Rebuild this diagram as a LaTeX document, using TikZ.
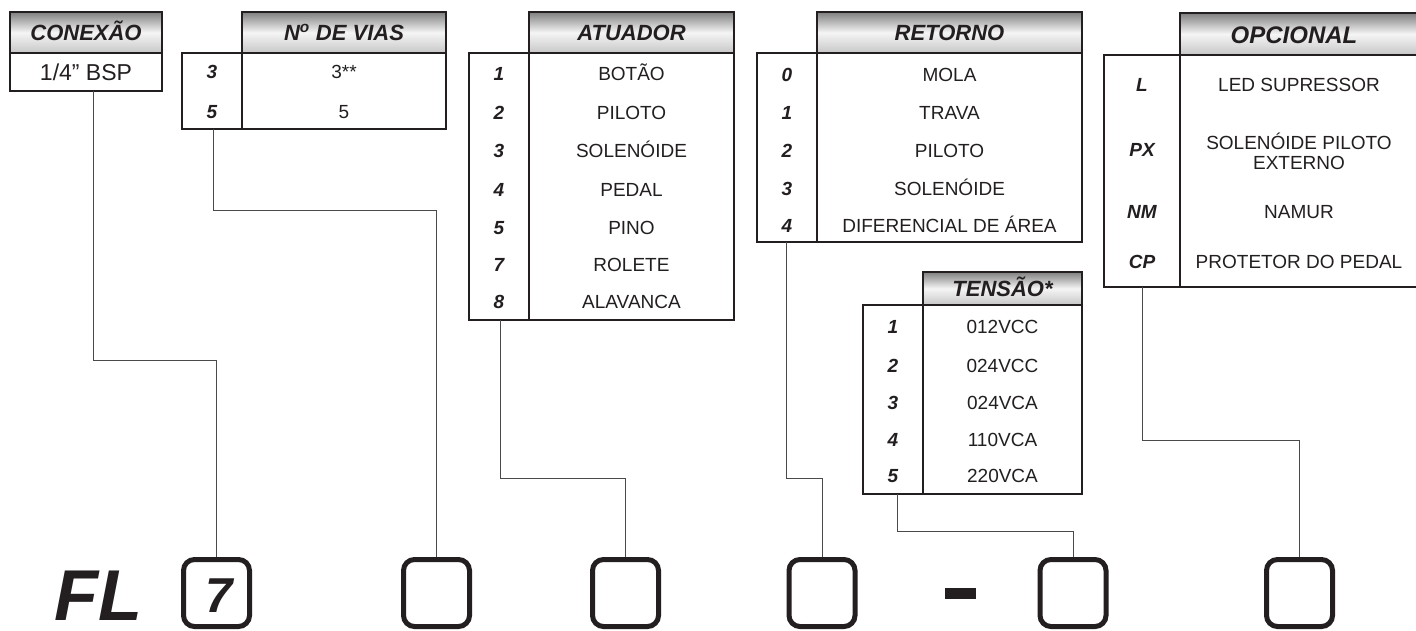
\documentclass[tikz,border=0pt]{standalone}
\usepackage{fontspec}
\setmainfont{Liberation Sans}
\definecolor{ink}{HTML}{231F20}
\definecolor{wire}{HTML}{4A4A4A}
\tikzset{
  hdr/.style={draw=ink, line width=1.3pt, top color=black!50, bottom color=black!22, middle color=black!4},
  tbl/.style={draw=ink, line width=1.3pt},
  hdrtxt/.style={font=\fontsize{22}{24}\selectfont\bfseries\itshape, text=ink, inner sep=0pt, text height=15.8pt, text depth=0pt},
  code/.style={font=\fontsize{19}{22}\selectfont\bfseries\itshape, text=ink, inner sep=0pt, text height=13.6pt, text depth=0pt},
  item/.style={font=\fontsize{19}{22}\selectfont, text=ink, inner sep=0pt, text height=13.6pt, text depth=0pt},
  item2/.style={font=\fontsize{19}{20}\selectfont, text=ink, inner sep=0pt, align=center},
  slot/.style={draw=ink, line width=5pt, rounded corners=11pt, minimum width=66pt, minimum height=67pt, inner sep=0pt},
  conn/.style={draw=wire, line width=1pt},
}
\begin{document}
\begin{tikzpicture}[x=1pt,y=-1pt]
\useasboundingbox (0,0) rectangle (1416,630);
\fill[white] (0,0) rectangle (1416,630);

% ---------- CONEXAO ----------
\draw[hdr] (10,12) rectangle (162,53);
\draw[tbl] (10,53) rectangle (162,91);
\node[hdrtxt] (hC) at (86,32.5) {CONEXÃO};
\node[item, font=\fontsize{23}{26}\selectfont, text height=16.5pt] (iC) at (86,72) {1/4” BSP};
\coordinate (c1) at (93,91);

% ---------- N DE VIAS ----------
\draw[hdr] (242,12) rectangle (446,53);
\draw[tbl] (182,53) rectangle (446,129);
\draw[tbl] (242,53) -- (242,129);
\node[hdrtxt] (hV) at (344,32.5) {N\textsuperscript{o} DE VIAS};
\foreach \y/\k/\t [count=\i] in {72/3/3**, 112/5/5}{
  \node[code] (vk\i) at (212,\y) {\k};
  \node[item] (vt\i) at (344,\y) {\t};
}
\coordinate (c2) at (213,129);

% ---------- ATUADOR ----------
\draw[hdr] (529,12) rectangle (734,53);
\draw[tbl] (469,53) rectangle (734,320);
\draw[tbl] (529,53) -- (529,320);
\node[hdrtxt] (hA) at (631.5,32.5) {ATUADOR};
\foreach \y/\k/\t [count=\i] in {74/1/BOTÃO, 113/2/PILOTO, 151/3/SOLENÓIDE, 190/4/PEDAL, 228/5/PINO, 265/7/ROLETE, 302/8/ALAVANCA}{
  \node[code] (ak\i) at (499,\y) {\k};
  \node[item] (at\i) at (631.5,\y) {\t};
}
\coordinate (c3) at (500,320);

% ---------- RETORNO ----------
\draw[hdr] (817,12) rectangle (1082,53);
\draw[tbl] (757,53) rectangle (1082,242);
\draw[tbl] (817,53) -- (817,242);
\node[hdrtxt] (hR) at (949.5,32.5) {RETORNO};
\foreach \y/\k/\t [count=\i] in {75/0/MOLA, 113/1/TRAVA, 151/2/PILOTO, 189/3/SOLENÓIDE, 226/4/DIFERENCIAL DE ÁREA}{
  \node[code] (rk\i) at (787,\y) {\k};
  \node[item] (rt\i) at (949.5,\y) {\t};
}
\coordinate (c4) at (786,242);

% ---------- TENSAO ----------
\draw[hdr] (923,272) rectangle (1082,305);
\draw[tbl] (863,305) rectangle (1082,494);
\draw[tbl] (923,305) -- (923,494);
\node[hdrtxt] (hT) at (1002.5,288.5) {TENSÃO*};
\foreach \y/\k/\t [count=\i] in {327/1/012VCC, 366/2/024VCC, 403/3/024VCA, 440/4/110VCA, 476/5/220VCA}{
  \node[code] (tk\i) at (893,\y) {\k};
  \node[item] (tt\i) at (1002.5,\y) {\t};
}
\coordinate (c5) at (897,494);

% ---------- OPCIONAL ----------
\draw[hdr] (1180,13) rectangle (1420,55);
\draw[tbl] (1104,55) rectangle (1420,287);
\draw[tbl] (1180,55) -- (1180,287);
\node[hdrtxt, font=\fontsize{24}{26}\selectfont\bfseries\itshape, text height=17pt] (hO) at (1294,34.5) {OPCIONAL};
\node[code] (ok1) at (1142,85) {L};
\node[item] (ot1) at (1299,85) {LED SUPRESSOR};
\node[code] (ok2) at (1142,150) {PX};
\node[item2] (ot2) at (1299,151) {SOLENÓIDE PILOTO\\EXTERNO};
\node[code] (ok3) at (1142,212) {NM};
\node[item] (ot3) at (1299,212) {NAMUR};
\node[code] (ok4) at (1142,262) {CP};
\node[item] (ot4) at (1299,262) {PROTETOR DO PEDAL};
\coordinate (c6) at (1142,287);

% ---------- code slots ----------
\node[font=\fontsize{72}{72}\selectfont\bfseries\itshape, text=ink, inner sep=0pt, text height=52pt, text depth=0pt, anchor=base west] (fl) at (54,620) {FL};
\node[slot] (b1) at (216.5,593) {};
\node[font=\fontsize{49}{49}\selectfont\bfseries\itshape, text=ink, inner sep=0pt, text height=35pt, text depth=0pt, anchor=base] (seven) at (219,612) {7};
\node[slot] (b2) at (436.5,593) {};
\node[slot] (b3) at (625.5,593) {};
\node[slot] (b4) at (822,593) {};
\node[fill=ink, minimum width=31pt, minimum height=11pt, inner sep=0pt] (dash) at (960.5,593.5) {};
\node[slot] (b5) at (1073,593) {};
\node[slot] (b6) at (1299.5,593) {};

% ---------- connectors ----------
\draw[conn] (c1) -- ++(0,269) -| (b1.north);
\draw[conn] (c2) -- ++(0,81) -| (b2.north);
\draw[conn] (c3) -- ++(0,158) -| (b3.north);
\draw[conn] (c4) -- ++(0,236) -| (b4.north);
\draw[conn] (c5) -- ++(0,37) -| (b5.north);
\draw[conn] (c6) -- ++(0,153) -| (b6.north);
\end{tikzpicture}
\end{document}
